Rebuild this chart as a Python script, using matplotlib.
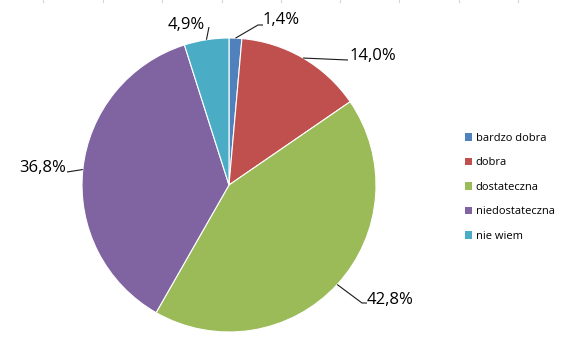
import matplotlib
matplotlib.use("Agg")
import matplotlib.pyplot as plt
from matplotlib.lines import Line2D
import numpy as np

categories = ["bardzo dobra", "dobra", "dostateczna", "niedostateczna", "nie wiem"]
values = [1.4, 14.0, 42.8, 36.8, 4.9]
labels = ["1,4%", "14,0%", "42,8%", "36,8%", "4,9%"]
colors = ["#4F81BD", "#C0504D", "#9BBB59", "#8064A2", "#4BACC6"]

W, H = 565, 351
fig = plt.figure(figsize=(W / 100, H / 100), dpi=100)
fig.patch.set_facecolor("white")

# pie centre / radius in pixels
cx, cy, R = 229, 185, 147
ax = fig.add_axes([(cx - R) / W, (H - cy - R) / H, 2 * R / W, 2 * R / H])

wedges, _ = ax.pie(values, colors=colors, startangle=90, counterclock=False,
                   radius=1, wedgeprops=dict(edgecolor="white", linewidth=0.8))
ax.set_xlim(-1, 1)
ax.set_ylim(-1, 1)
ax.axis("off")

def px(x, y):
    return ((x - cx) / R, (cy - y) / R)

# label text positions (left x, baseline y) and leader elbows in pixels
text_pos = [(263, 24), (350, 60), (367, 304), (19, 172), (168, 29)]
elbows = [[(258, 25), (263, 25)], [(348, 60)], [(362, 303), (367, 303)],
          [(67, 172)], [(209, 27)]]

total = sum(values)
start = 90.0
for i, v in enumerate(values):
    span = 360.0 * v / total
    mid = np.deg2rad(start - span / 2)
    start -= span
    xs = [np.cos(mid)]
    ys = [np.sin(mid)]
    for (ex, ey) in elbows[i]:
        dx, dy = px(ex, ey)
        xs.append(dx)
        ys.append(dy)
    ax.plot(xs, ys, color="#1a1a1a", lw=0.8, clip_on=False, solid_capstyle="butt")
    tx, ty = px(*text_pos[i])
    ax.text(tx, ty, labels[i], fontsize=12, family="Open Sans", ha="left",
            va="baseline", color="black", clip_on=False)

leg = fig.legend(wedges, categories, loc="upper left",
                 bbox_to_anchor=(465 / W, 1 - 133 / H), frameon=False,
                 prop=dict(family="Open Sans", size=8),
                 handlelength=0.65, handleheight=0.65, handletextpad=0.3,
                 labelspacing=1.21, borderpad=0, borderaxespad=0)
for h in leg.legend_handles:
    h.set_edgecolor("none")

# faint spreadsheet gridline stubs at the top edge
for gx in [43, 103, 162, 222, 281, 340, 399, 459, 518]:
    fig.add_artist(Line2D([gx / W, gx / W], [1, 1 - 2 / H], color="#D0D7E5", lw=0.8))

fig.savefig("out.png", dpi=100, facecolor="white")
